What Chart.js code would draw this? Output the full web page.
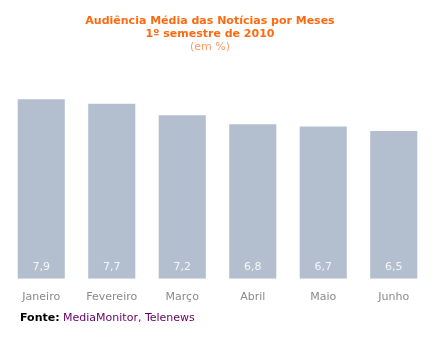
<!DOCTYPE html>
<html lang="pt">
<head>
  <meta charset="UTF-8" />
  <title>Audiência Média das Notícias por Meses</title>
  <script src="https://cdn.jsdelivr.net/npm/chart.js"></script>
  <style>
    html, body {
      margin: 0;
      padding: 0;
      background: #ffffff;
    }

    .wrap {
      position: relative;
      width: 438px;
      height: 339px;
    }

    .fonte {
      position: absolute;
      left: 20px;
      top: 311px;
      font-family: 'DejaVu Sans', sans-serif;
      font-size: 11px;
      color: #660066;
    }

    .fonte b {
      color: #000000;
    }
  </style>
</head>
<body>

  <div class="wrap">
    <canvas id="chart" width="438" height="339"></canvas>
    <div class="fonte"><b>Fonte:</b> MediaMonitor, Telenews</div>
  </div>

  <script>
    const months = ["Janeiro", "Fevereiro", "Março", "Abril", "Maio", "Junho"];
    const audience = [7.9, 7.7, 7.2, 6.8, 6.7, 6.5];
    const titleLines = ["Audiência Média das Notícias por Meses", "1º semestre de 2010"];
    const subtitleText = "(em %)";

    // title block, centred a little left of the plot centre like the original
    const titleBlock = {
      id: "titleBlock",
      afterDraw(chart) {
        const ctx = chart.ctx;
        ctx.save();
        ctx.textAlign = "center";
        ctx.textBaseline = "middle";
        ctx.font = "bold 11px 'DejaVu Sans', sans-serif";
        ctx.fillStyle = "#ff6a10";
        titleLines.forEach((line, i) => ctx.fillText(line, 210, 21 + i * 13));
        ctx.font = "11px 'DejaVu Sans', sans-serif";
        ctx.fillStyle = "#ff9a66";
        ctx.fillText(subtitleText, 210, 47);
        ctx.restore();
      }
    };

    // values written inside the bars, near the base
    const barLabels = {
      id: "barLabels",
      afterDatasetsDraw(chart) {
        const ctx = chart.ctx;
        const meta = chart.getDatasetMeta(0);
        ctx.save();
        ctx.font = "11px 'DejaVu Sans', sans-serif";
        ctx.fillStyle = "#f4f6f9";
        ctx.textAlign = "center";
        ctx.textBaseline = "middle";
        meta.data.forEach((bar, i) => {
          ctx.fillText(audience[i].toFixed(1).replace(".", ","), bar.x, bar.base - 12);
        });
        ctx.restore();
      }
    };

    new Chart(document.getElementById("chart").getContext("2d"), {
      type: "bar",
      data: {
        labels: months,
        datasets: [{
          data: audience,
          backgroundColor: "#b3bfcf",
          barPercentage: 0.668,
          categoryPercentage: 1
        }]
      },
      options: {
        responsive: false,
        animation: false,
        layout: {
          padding: { left: 6, right: 9, top: 97, bottom: 23 }
        },
        plugins: {
          legend: { display: false },
          tooltip: { enabled: false },
          title: { display: false }
        },
        scales: {
          x: {
            grid: { display: false, drawTicks: false },
            border: { display: false },
            ticks: {
              color: "#8a8a8a",
              padding: 12,
              font: { family: "'DejaVu Sans', sans-serif", size: 11 }
            }
          },
          y: {
            display: false,
            min: 0,
            max: 8
          }
        }
      },
      plugins: [barLabels, titleBlock]
    });
  </script>

</body>
</html>
